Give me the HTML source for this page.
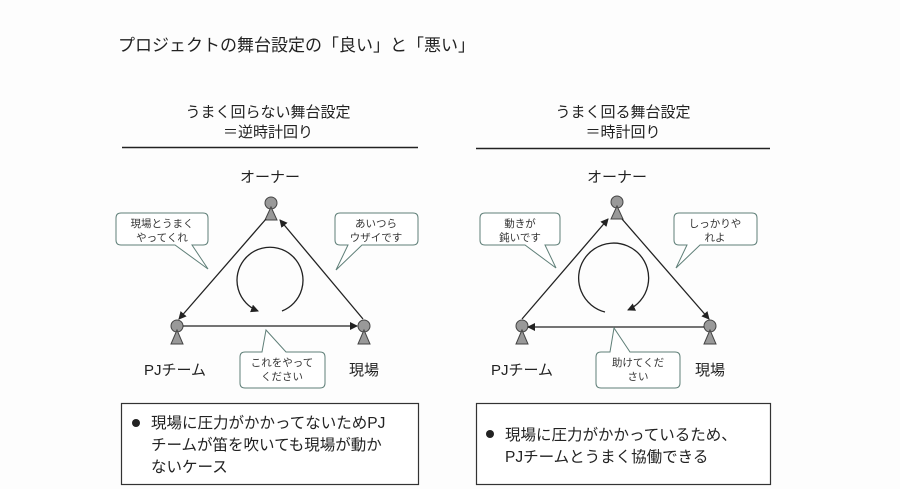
<!DOCTYPE html>
<html><head><meta charset="utf-8"><style>
body{margin:0;background:#fff;}
svg{display:block;font-family:"Liberation Sans","Noto Sans CJK JP",sans-serif;}
</style></head><body>
<svg width="900" height="489" viewBox="0 0 900 489" xmlns="http://www.w3.org/2000/svg">
<defs>
<marker id="a" markerWidth="8" markerHeight="8" refX="7" refY="4" orient="auto" markerUnits="userSpaceOnUse"><path d="M0,0 L8,4 L0,8 z" fill="#222"/></marker>
</defs>
<rect width="900" height="489" fill="#fdfdfd"/>
<text x="118" y="51" font-size="17" fill="#222">プロジェクトの舞台設定の「良い」と「悪い」</text>

<g font-size="15" fill="#222" text-anchor="middle">
<text x="268" y="117">うまく回らない舞台設定</text>
<text x="268" y="137">＝逆時計回り</text>
<text x="623" y="117">うまく回る舞台設定</text>
<text x="623" y="137">＝時計回り</text>
</g>
<line x1="122" y1="147.5" x2="418" y2="147.5" stroke="#222" stroke-width="1.5"/>
<line x1="476" y1="148.5" x2="770" y2="148.5" stroke="#222" stroke-width="1.5"/>

<g font-size="15" fill="#222" text-anchor="middle">
<text x="270" y="182">オーナー</text>
<text x="175" y="375">PJチーム</text>
<text x="364" y="375">現場</text>
<text x="617" y="182">オーナー</text>
<text x="522" y="375">PJチーム</text>
<text x="710" y="375">現場</text>
</g>

<!-- persons -->
<g fill="#999" stroke="#444" stroke-width="1">
<circle cx="271" cy="203" r="6"/><path d="M271,207 L265,220 L277,220 z"/>
<circle cx="177" cy="326" r="6"/><path d="M177,330 L171,344 L183,344 z"/>
<circle cx="364" cy="326" r="6"/><path d="M364,330 L358,344 L370,344 z"/>
<circle cx="617" cy="202" r="6"/><path d="M617,206 L611,219 L623,219 z"/>
<circle cx="522" cy="326" r="6"/><path d="M522,330 L516,344 L528,344 z"/>
<circle cx="710" cy="326" r="6"/><path d="M710,330 L704,344 L716,344 z"/>
</g>

<g stroke="#222" stroke-width="1.3" fill="none">
<!-- left -->
<line x1="266" y1="219" x2="179" y2="319" marker-end="url(#a)"/>
<line x1="183" y1="326" x2="357" y2="326" marker-end="url(#a)"/>
<line x1="363" y1="319" x2="280" y2="220" marker-end="url(#a)"/>
<path d="M282,311 A33,33 0 1 0 258,311" marker-end="url(#a)"/>
<!-- right -->
<line x1="522" y1="319" x2="608" y2="219" marker-end="url(#a)"/>
<line x1="622" y1="219" x2="709" y2="319" marker-end="url(#a)"/>
<line x1="704" y1="327" x2="528" y2="327" marker-end="url(#a)"/>
<path d="M605,312 A35,35 0 1 1 628,310" marker-end="url(#a)"/>
</g>

<!-- bubbles -->
<g fill="#fff" stroke="#5f7f78" stroke-width="1">
<path d="M121,213 H203 Q208,213 208,218 V240 Q208,245 203,245 H192 L208,269 L175,245 H121 Q116,245 116,240 V218 Q116,213 121,213 z"/>
<path d="M340,213 H413 Q418,213 418,218 V240 Q418,245 413,245 H362 L336,270 L348,245 H340 Q335,245 335,240 V218 Q335,213 340,213 z"/>
<path d="M245,352 H262 L266,330 L286,352 H320 Q325,352 325,357 V383 Q325,388 320,388 H245 Q240,388 240,383 V357 Q240,352 245,352 z"/>
<path d="M485,213 H555 Q560,213 560,218 V240 Q560,245 555,245 H545 L556,268 L525,245 H485 Q480,245 480,240 V218 Q480,213 485,213 z"/>
<path d="M679,213 H752 Q757,213 757,218 V240 Q757,245 752,245 H700 L676,268 L687,245 H679 Q674,245 674,240 V218 Q674,213 679,213 z"/>
<path d="M601,352 H610 L614,328 L630,352 H675 Q680,352 680,357 V383 Q680,388 675,388 H601 Q596,388 596,383 V357 Q596,352 601,352 z"/>
</g>
<g font-size="10.5" fill="#333" text-anchor="middle">
<text x="162" y="227">現場とうまく</text><text x="162" y="241">やってくれ</text>
<text x="376" y="227">あいつら</text><text x="376" y="241">ウザイです</text>
<text x="282" y="366">これをやって</text><text x="282" y="380">ください</text>
<text x="520" y="227">動きが</text><text x="520" y="241">鈍いです</text>
<text x="715" y="227">しっかりや</text><text x="715" y="241">れよ</text>
<text x="638" y="366">助けてくだ</text><text x="638" y="380">さい</text>
</g>

<!-- bottom boxes -->
<rect x="121.5" y="403.5" width="297" height="81" fill="#fff" stroke="#333" stroke-width="1.2"/>
<rect x="476.5" y="403.5" width="294" height="81" fill="#fff" stroke="#333" stroke-width="1.2"/>
<g font-size="15.5" fill="#222">
<circle cx="136" cy="423" r="4" fill="#222"/>
<text x="151" y="428">現場に圧力がかかってないためPJ</text>
<text x="151" y="450">チームが笛を吹いても現場が動か</text>
<text x="151" y="472">ないケース</text>
<circle cx="490" cy="434" r="4" fill="#222"/>
<text x="505" y="440">現場に圧力がかかっているため、</text>
<text x="505" y="462">PJチームとうまく協働できる</text>
</g>
</svg>
</body></html>
